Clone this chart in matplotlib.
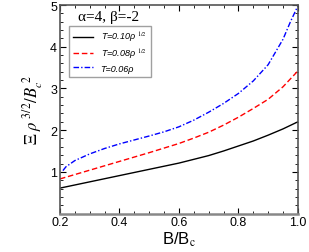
import matplotlib

matplotlib.use("Agg")
import matplotlib.pyplot as plt
from matplotlib.ticker import MultipleLocator

plt.rcParams["font.family"] = ["Liberation Sans", "DejaVu Sans"]
plt.rcParams["mathtext.fontset"] = "stix"

# curves (B/Bc, Xi rho^{3/2}/Bc^2)
B_010 = [0.2, 0.3, 0.4, 0.5, 0.6, 0.65, 0.7, 0.75, 0.8, 0.85, 0.9, 0.95, 1.0]
Y_010 = [0.61, 0.76, 0.91, 1.06, 1.21, 1.30, 1.39, 1.50, 1.62, 1.74, 1.88,
         2.03, 2.20]

B_008 = [0.2, 0.3, 0.4, 0.5, 0.6, 0.65, 0.7, 0.75, 0.8, 0.85, 0.9, 0.95, 1.0]
Y_008 = [0.83, 1.04, 1.25, 1.46, 1.68, 1.81, 1.95, 2.12, 2.31, 2.52, 2.74,
         3.04, 3.42]

B_006 = [0.21, 0.22, 0.25, 0.3, 0.35, 0.4, 0.5, 0.55, 0.6, 0.65, 0.7, 0.75,
         0.8, 0.85, 0.9, 0.95, 0.975, 1.0]
Y_006 = [1.03, 1.12, 1.27, 1.43, 1.56, 1.67, 1.86, 1.96, 2.08, 2.24, 2.43,
         2.64, 2.88, 3.18, 3.57, 4.18, 4.6, 4.98]

LABELS = [r"T=0.10ρ $^{1/2}$", r"T=0.08ρ $^{1/2}$", "T=0.06ρ"]
TITLE = "α=4, β=-2"

fig = plt.figure(figsize=(3.09, 2.53), dpi=100)
ax = fig.add_axes([0.194, 0.152, 0.77, 0.824])

ax.plot(B_010, Y_010, color="black", lw=1.0, ls="-", label=LABELS[0])
ax.plot(B_008, Y_008, color="red", lw=1.0, ls=(0, (4, 2)), label=LABELS[1])
ax.plot(B_006, Y_006, color="blue", lw=1.0, ls=(0, (4, 1.5, 1, 1.5)),
        label=LABELS[2])

ax.set_xlim(0.2, 1.0)
ax.set_ylim(0, 5)
ax.xaxis.set_major_locator(MultipleLocator(0.2))
ax.xaxis.set_minor_locator(MultipleLocator(0.05))
ax.set_yticks([1, 2, 3, 4, 5])
ax.yaxis.set_minor_locator(MultipleLocator(0.2))
ax.tick_params(which="both", direction="in", top=True, right=True,
               labelsize=9, pad=2)
ax.tick_params(which="major", length=4)
ax.tick_params(which="minor", length=2)
for s in ax.spines.values():
    s.set_color("#555555")
    s.set_linewidth(1.2)
ax.spines["bottom"].set_color("#888888")
ax.spines["bottom"].set_linewidth(1.8)

ax.set_xlabel(r"B/B$_{\rm c}$", fontsize=12, labelpad=1)
ax.set_ylabel(r"$\Xi\ \rho^{\ 3/2}/B_c^{\ 2}$", fontsize=12, labelpad=4)

leg = ax.legend(loc="upper left", bbox_to_anchor=(0.036, 0.9),
                prop={"style": "italic", "size": 6.5}, frameon=True,
                fancybox=False, edgecolor="#888888", handlelength=2.3,
                borderpad=0.45, labelspacing=0.3, handletextpad=0.8,
                borderaxespad=0)
leg.get_frame().set_linewidth(1.0)
ax.text(0.365, 4.72, TITLE, family="Liberation Serif", fontsize=11,
        ha="center", va="center")

fig.savefig("out.png", dpi=100)
